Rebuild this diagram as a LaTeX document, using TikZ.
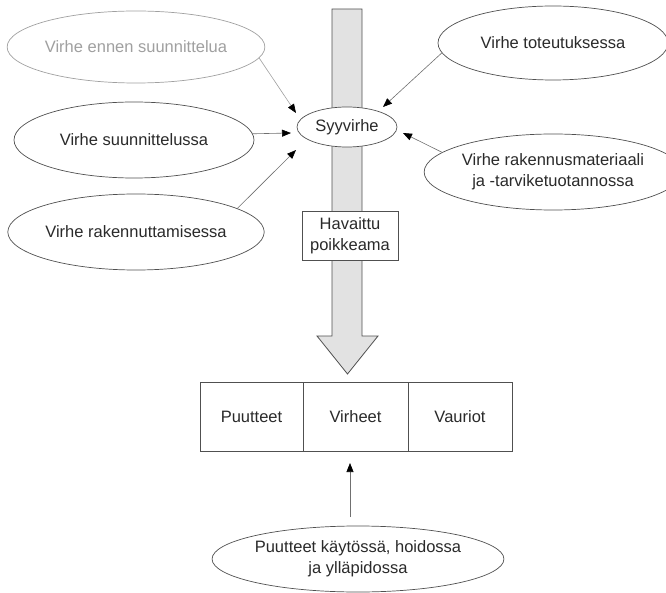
\documentclass[tikz,border=0pt]{standalone}
\usepackage{fontspec}
\setmainfont{Liberation Sans}
\usetikzlibrary{shapes.geometric,arrows.meta}
\definecolor{linegray}{HTML}{505050}
\definecolor{conngray}{HTML}{707070}
\definecolor{txt}{HTML}{2A2A2A}
\definecolor{faint}{HTML}{A0A0A0}
\definecolor{shaftfill}{HTML}{E2E2E2}
\begin{document}
\begin{tikzpicture}[x=1pt,y=-1pt,
  every node/.style={font=\fontsize{16.5}{21}\selectfont, text=txt},
  oval/.style={ellipse, draw=linegray, line width=0.7pt, fill=white, inner sep=0pt, outer sep=0pt, align=center},
  cell/.style={rectangle, draw=linegray, line width=0.8pt, fill=white, inner sep=0pt, outer sep=0pt, align=center},
  conn/.style={draw=conngray, line width=0.6pt, -{Triangle[length=9pt,width=7pt,color=black]}},
  bigarrow/.style={draw=linegray, fill=shaftfill, line width=0.8pt, line join=miter}]
\useasboundingbox (0,0) rectangle (666,593);
% big arrow
\draw[bigarrow] (332,9) -- (362,9) -- (362,336) -- (378,336) -- (347.5,374) -- (317,336) -- (332,336) -- cycle;
% central nodes
\node[oval, minimum width=100pt, minimum height=40pt] (syy) at (347,127) {Syyvirhe};
\node[cell, minimum width=96pt, minimum height=49pt] (hav) at (350,235.5) {Havaittu\\poikkeama};
% left ellipses
\node[oval, minimum width=232pt, minimum height=72pt, draw=faint, text=faint] (e1) at (136,47) {Virhe ennen suunnittelua};
\node[oval, minimum width=240pt, minimum height=76pt] (e2) at (134,140) {Virhe suunnittelussa};
\node[oval, minimum width=240pt, minimum height=76pt] (e3) at (136,232) {Virhe rakennuttamisessa};
% right ellipses
\node[oval, minimum width=230pt, minimum height=74pt] (e4) at (553,43) {Virhe toteutuksessa};
\node[oval, minimum width=230pt, minimum height=76pt] (e5) at (553,172) {Virhe rakennusmateriaali\\ja -tarviketuotannossa};
% three cells
\node[cell, minimum width=103pt, minimum height=69pt] (c1) at (251.5,416.5) {Puutteet};
\node[cell, minimum width=105pt, minimum height=69pt] (c2) at (355.5,416.5) {Virheet};
\node[cell, minimum width=104pt, minimum height=69pt] (c3) at (460,416.5) {Vauriot};
% bottom ellipse
\node[oval, minimum width=280pt, minimum height=66pt] (e6) at (358,559) {Puutteet käytössä, hoidossa\\ja ylläpidossa};
% arrow tips
\coordinate (t1) at (296,113);
\coordinate (t2) at (291,133);
\coordinate (t3) at (296,150);
\coordinate (t4) at (383,107);
\coordinate (t5) at (403,133);
\coordinate (s6) at (350,517);
\coordinate (t6) at (350,463);
% connectors
\draw[conn, draw=faint] (e1.-5) -- (t1);
\draw[conn] (e2.3) -- (t2);
\draw[conn] (e3.13) -- (t3);
\draw[conn] (e4.185) -- (t4);
\draw[conn] (e5.170) -- (t5);
\draw[conn] (s6) -- (t6);
\end{tikzpicture}
\end{document}
